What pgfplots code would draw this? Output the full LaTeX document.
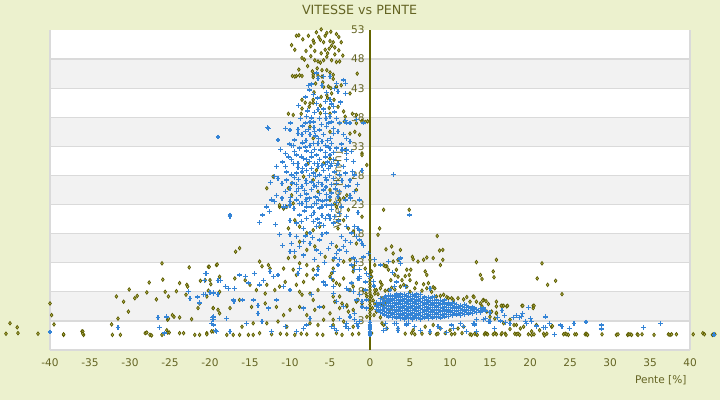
\documentclass[border=0pt]{standalone}
\usepackage{pgfplots}
\pgfplotsset{compat=1.18}
\usepackage{fontspec}
\setmainfont{DejaVu Sans}
\definecolor{bgc}{RGB}{236,241,206}
\definecolor{bandc}{RGB}{242,242,242}
\definecolor{gridc}{RGB}{218,218,218}
\definecolor{txtc}{RGB}{100,100,35}
\definecolor{axc}{RGB}{100,100,0}
\definecolor{olmk}{RGB}{90,90,0}
\definecolor{olfill}{RGB}{185,185,85}
\definecolor{blmk}{RGB}{52,132,214}
\begin{document}
\begin{tikzpicture}
\begin{scope}[x=1bp,y=1bp]
\fill[bgc] (-50,-50) rectangle (670,350);
\fill[white] (0,0) rectangle (640,320);
\foreach \a/\b in {29.09/58.18,87.27/116.36,145.45/174.55,203.64/232.73,261.82/290.91}
  \fill[bandc] (0,\a) rectangle (640,\b);
\foreach \k in {0,...,10}
  \draw[gridc,line width=1.2bp] (0,{\k*29.0909}) -- (640,{\k*29.0909});
\draw[gridc,line width=1.2bp] (0,0) -- (0,320);
\draw[gridc,line width=1.2bp] (640,0) -- (640,320);
\end{scope}
\begin{axis}[
  at={(0,0)}, anchor=south west,
  scale only axis, width=640bp, height=320bp,
  xmin=-40, xmax=40, ymin=-2, ymax=53,
  clip=false,
  axis x line=bottom, axis y line=center,
  x axis line style={draw=none},
  y axis line style={draw=axc, line width=1.4bp, -},
  xtick={-40,-35,...,40}, ytick={-2,3,...,53},
  yticklabels={3,3,8,13,18,23,28,33,38,43,48,53},
  major tick length=0pt, tick style={draw=none},
  ticklabel style={font=\fontsize{10.6}{12}\selectfont, text=txtc},
  xticklabel style={yshift=-5bp},
  yticklabel style={xshift=-2bp},
  /pgf/number format/assume math mode=true,
]
\node[rotate=90, font=\fontsize{10.6}{12}\selectfont, text=txtc] at (axis cs:-4,25.5) {Vitesse [km/h]};
\node[font=\fontsize{12.7}{14}\selectfont, text=txtc] at (axis cs:-1.3,56.4) {VITESSE vs PENTE};
\node[anchor=east, font=\fontsize{10.6}{12}\selectfont, text=txtc] at (axis cs:40,-7.16) {Pente [\%]};

% olive series
\addplot[only marks, mark=diamond*, mark size=1.8bp, mark options={draw=olmk, fill=olfill, line width=0.7bp}] coordinates {
(-9.8,50.4) (-9.4,49.6) (-9.2,52.0) (-8.9,52.1) (-8.4,51.4) (-7.7,52.0) (-7.1,51.2) (-7.0,50.8) (-6.4,51.8) (-6.1,53.1) (-5.4,52.5) (-6.2,51.3) (-5.8,50.9) (-5.0,51.1) (-4.6,50.9) (-4.8,50.3) (-5.1,49.8) (-4.4,50.0) (-3.6,50.9) (-3.9,49.5) (-5.6,49.6) (-6.1,49.0) (-5.3,49.0) (-5.4,48.4) (-5.8,47.8) (-6.5,47.6) (-6.9,47.8) (-6.2,47.4) (-4.8,47.8) (-4.2,47.5) (-3.8,47.6) (-7.4,48.5) (-8.5,48.2) (-8.2,47.9) (-8.9,46.2) (-9.7,45.1) (-9.2,45.1) (-8.8,45.2) (-7.2,45.9) (-6.6,46.4) (-6.0,46.1) (-5.4,46.1) (-5.0,45.7) (-6.5,45.1) (-7.1,44.9) (-5.9,44.0) (-6.8,43.8) (-5.8,43.2) (-4.9,43.0) (-4.2,43.2) (-3.6,43.5) (-7.0,42.3) (-6.1,41.5) (-5.3,41.3) (-4.5,41.0) (-5.1,39.6) (-6.2,40.0) (-7.1,40.5) (-1.6,45.5) (-2.2,38.6) (-3.2,37.3) (-5.0,38.6) (-6.2,38.7) (-8.6,38.6) (-10.2,38.6) (-7.6,39.8) (-8.1,40.5) (-1.0,37.4) (-0.3,37.3) (-1.7,37.0)
(-6.7,52.6) (-4.2,52.3) (-3.9,51.8) (-7.4,50.2) (-8.0,49.4) (-4.4,48.8) (-3.4,48.6) (-6.9,49.4) (-5.6,52.0) (-4.9,52.7) (-7.8,46.8) (-4.6,44.6)
(-9.4,45.0) (-8.5,45.1) (-7.1,45.3) (-6.0,45.0) (-4.6,45.3) (-5.2,43.3) (-5.4,41.8) (-4.8,42.1) (-4.2,43.3) (-2.5,42.1) (-8.5,41.0) (-7.5,40.4) (-7.1,41.0) (-9.6,38.4) (-8.5,39.5) (-4.0,39.8) (-3.3,39.0) (-3.1,38.1) (-1.7,38.4) (-1.0,37.2) (-0.6,37.2) (-2.5,35.2) (-1.9,35.5) (-1.3,35.0) (-3.8,37.0) (-7.5,36.4) (-7.1,34.4) (-5.0,35.5) (-1.0,31.8) (-0.4,29.8) (-3.1,32.4) (-12.1,27.8) (-12.9,25.8) (-9.8,26.6) (-10.2,25.8) (-9.8,24.6) (-5.0,23.8) (-4.2,22.6) (-3.8,23.8) (-6.5,25.2) (-7.1,27.2) (-8.3,27.8) (-6.7,28.9) (-5.8,30.1) (-5.0,30.9) (-7.7,30.1) (-5.0,25.5) (-11.3,22.6) (-10.8,22.3)
(-1.0,31.5) (-1.7,25.5) (-2.9,24.6) (-3.3,24.1) (-4.4,23.2) (-1.0,20.9) (-2.7,18.9) (-4.2,15.8) (-4.6,12.0) (-4.8,11.2) (-2.5,13.5) (-2.1,12.3) (-0.6,12.0) (-4.2,9.5) (-3.8,9.2) (-2.3,9.5) (-2.1,8.9) (-0.8,8.3) (-0.5,7.7) (-4.6,7.2) (-3.5,6.0) (-2.9,5.5) (-1.7,6.3) (-1.0,5.5) (-4.6,3.2) (-2.7,4.6) (-4.2,0.9) (-3.5,0.6) (-0.4,3.7)
(-11.3,22.9) (-10.4,22.6) (-9.6,23.2) (-10.2,18.9) (-9.4,20.3) (-8.8,19.2) (-7.9,18.1) (-7.1,18.6) (-6.3,19.2) (-4.0,18.9) (-3.3,20.3) (-2.7,22.1) (-2.1,18.3) (-1.7,16.3) (-8.8,16.6) (-7.9,15.2) (-6.9,15.8) (-5.6,14.0) (-4.6,13.5) (-3.3,13.2)
(-16.8,14.9) (-16.3,15.5) (-13.8,13.2) (-13.5,12.4) (-12.7,12.6) (-12.5,12.0) (-10.8,12.0) (-10.2,13.8) (-9.4,14.0) (-8.8,12.9) (-7.9,12.6) (-7.1,11.8) (-6.5,12.3) (-9.6,11.8) (-9.2,10.9) (-7.9,10.9) (-7.1,10.3) (-8.3,9.7) (-9.2,9.2) (-10.6,9.7) (-11.3,8.9) (-11.9,8.3) (-12.9,9.2) (-13.1,7.7) (-14.2,8.3) (-15.0,9.2) (-15.6,10.0) (-16.9,10.3) (-18.8,10.6) (-20.0,10.0) (-19.2,12.6) (-20.2,12.3) (-19.6,5.2) (-18.8,4.3) (-17.5,5.2) (-16.3,6.6) (-14.8,5.4) (-13.1,6.0) (-11.7,5.4) (-10.8,4.0) (-10.0,4.9) (-8.8,5.4) (-7.9,4.0) (-6.9,4.9) (-5.8,5.4) (-5.0,4.3) (-4.4,6.3) (-3.8,5.2) (-2.9,5.7) (-2.1,4.9) (-1.5,6.6) (-1.0,6.0) (-0.4,7.2) (-16.0,2.0) (-14.6,2.6) (-12.9,2.6) (-11.5,2.9) (-10.4,2.0) (-7.5,2.6) (-6.5,2.3) (-5.8,3.2) (-4.6,2.3) (-3.3,2.9) (-2.1,2.0) (-20.4,0.9) (-19.6,1.2) (-17.9,0.6) (-17.1,0.6) (-16.3,0.6) (-15.2,0.6) (-14.6,0.6) (-13.8,0.9) (-7.1,6.6) (-3.8,7.2) (-5.0,10.6) (-4.6,10.0) (-3.3,10.3) (-2.1,11.5) (-2.5,8.3) (-7.5,7.7) (-8.8,8.0) (-8.5,7.5) (-6.5,8.3)
(-12.3,0.7) (-11.2,0.8) (-10.4,0.7) (-9.4,0.6) (-8.6,0.8) (-7.9,0.7) (-6.6,0.7) (-5.9,0.6) (-2.2,0.7) (-1.4,0.8)
(-39.8,4.0) (-39.5,2.4) (-38.3,0.6) (-36.0,1.2) (-35.8,0.6) (-32.3,2.4) (-32.2,0.6) (-31.7,7.2) (-31.5,3.4) (-31.2,0.6) (-30.8,6.3) (-30.2,4.6) (-30.1,8.4) (-29.4,6.9) (-29.1,7.3) (-28.1,0.9) (-27.9,1.0) (-27.5,0.6) (-27.3,0.5) (-27.9,7.9) (-27.6,9.6) (-26.7,6.7) (-26.0,0.6) (-26.0,12.9) (-25.9,10.1) (-25.6,8.0) (-25.3,3.2) (-25.2,3.4) (-25.4,1.4) (-25.3,1.0) (-25.1,1.0) (-25.2,7.2) (-24.7,4.0) (-24.5,3.7) (-24.2,8.1) (-23.8,9.5) (-23.8,3.6) (-23.8,0.9) (-23.3,0.9) (-22.9,9.2) (-22.8,8.9) (-22.6,12.2) (-23.0,7.5) (-22.3,3.3) (-21.9,0.6) (-21.3,0.6) (-20.4,0.7) (-21.5,5.2) (-21.2,9.9) (-21.3,6.0) (-20.6,10.0) (-20.4,7.2) (-20.1,12.3) (-19.6,5.2) (-19.9,9.3) (-20.2,8.2) (-19.8,1.2) (-19.1,12.7) (-18.8,8.0) (-19.0,4.9)
(-45.5,0.8) (-45.0,2.6) (-44.1,1.9) (-44.0,0.9) (-41.5,0.8) (-40.0,6.0) (-38.3,0.7) (-35.9,1.2) (-35.9,0.8)
(0,3.8) (0,4.3) (0,4.8) (0,5.3) (0,5.8) (0,6.3) (0,6.8) (0,7.3) (0,7.8) (0,8.3) (0,8.8) (0,9.3) (0,9.8) (0,10.3) (0,11.0) (0,13.5)
(1.7,22.1) (1.2,18.9) (1.0,17.8) (0.6,12.6) (2.7,15.8) (2.9,14.6) (2.9,13.2) (2.3,11.8) (0.2,11.5) (0.2,10.6) (1.7,12.6) (2.1,12.4) (3.1,10.9) (3.5,10.6) (1.3,9.7) (1.5,9.2) (0.8,8.3) (0.6,7.7) (4.6,8.9) (1.7,5.5) (2.5,4.9) (1.5,2.6) (0.2,0.9)
(4.9,22.1) (8.4,17.6) (2.0,15.3) (3.8,15.2) (5.3,14.0) (5.4,13.6) (6.0,13.2) (6.7,13.5) (7.1,13.9) (7.9,13.8) (8.7,15.1) (9.1,15.2) (9.1,13.5) (8.8,12.6) (13.3,13.1) (15.8,13.5) (1.9,12.4) (2.6,10.0) (3.3,11.8) (3.5,13.5) (4.6,11.8) (5.1,11.8) (4.9,10.9) (6.9,11.5) (7.1,10.9) (4.4,10.7) (4.0,10.0) (5.0,10.0) (5.8,9.5) (6.7,9.3) (7.3,9.5) (7.9,8.8) (8.1,8.6) (8.8,7.3) (9.6,7.1) (10.2,6.9) (12.1,7.1) (12.9,7.2) (14.2,6.6) (13.8,10.9) (14.0,10.2) (15.4,11.5) (15.5,10.5) (21.5,12.9) (20.9,10.3) (22.2,9.2) (23.2,9.9) (24.0,7.6)
(0.6,8.3) (1.3,8.6) (1.9,8.2) (2.3,8.3) (2.7,8.7) (3.1,8.4) (3.8,8.9) (4.2,9.2) (5.0,8.0) (5.6,8.6) (6.5,8.2) (7.1,8.6) (7.7,8.0) (8.3,7.2) (9.2,7.5) (9.8,6.9) (10.4,6.6) (11.0,6.9) (11.7,6.7) (12.5,6.3) (13.3,6.3) (14.0,5.5) (14.8,5.9) (15.8,5.5) (16.5,5.6) (17.1,5.5) (19.0,5.6) (20.4,5.6) (20.4,5.2) (14.6,4.6) (15.0,3.7) (15.8,4.3) (15.6,3.4) (16.7,2.6) (17.5,3.2) (18.3,2.3) (19.2,2.0) (20.8,2.3) (22.7,2.0) (1.7,2.3) (2.1,1.7) (3.5,1.7) (5.4,1.4) (6.9,2.0) (7.9,2.3) (8.8,1.7) (10.0,1.4) (11.0,1.7) (11.7,2.0) (0.2,7.2) (0.4,6.5) (0.6,5.9) (0.3,5.2) (0.8,4.6) (1.3,5.8) (1.5,6.9) (1.0,7.6) (0.5,4.0) (1.3,3.6) (1.9,6.3)
(13.0,7.1) (14.1,6.5) (14.5,6.4) (13.8,6.0) (15.8,6.3) (16.4,5.6) (16.7,5.6) (17.2,5.6) (19.1,5.6) (20.5,5.6) (15.2,4.6) (15.8,4.4) (17.5,1.6) (18.0,2.3) (18.8,1.7) (20.2,1.2) (21.2,1.4) (22.8,2.1)
(4.4,0.8) (5.2,0.9) (5.6,0.7) (6.5,0.8) (7.5,0.9) (8.3,0.7) (8.5,0.8) (9.4,0.9) (10.2,0.7) (10.6,0.8) (11.5,0.9) (12.5,0.7) (12.7,0.6) (13.1,0.8) (13.3,0.7) (13.4,0.6) (14.3,0.7) (14.4,0.9) (14.6,0.8) (14.7,0.7) (15.4,0.7) (15.6,0.9) (15.8,0.7) (16.4,0.7) (16.5,0.9) (16.9,0.8) (17.0,0.6) (18.1,0.8) (18.3,0.7) (18.5,0.8) (18.7,0.6) (19.8,0.7) (20.2,0.6) (20.5,0.7) (21.7,0.8) (21.8,0.5) (22.1,0.8) (24.2,0.7) (24.4,0.8) (24.6,0.7) (24.8,0.6) (25.6,0.7) (25.8,0.7) (26.9,0.7) (27.0,0.8) (27.1,0.7) (27.2,0.6) (29.0,0.7) (30.8,0.6) (31.0,0.7) (32.2,0.6) (32.3,0.7) (32.5,0.7) (32.7,0.6) (33.4,0.7) (33.5,0.6) (34.0,0.7) (35.5,0.6) (37.3,0.7) (37.5,0.6) (37.7,0.7) (38.3,0.7) (40.4,0.7) (41.6,0.9) (41.8,0.7) (42.8,0.6) (43.1,0.7)
};

% blue series
\addplot[only marks, mark=+, mark size=2.4bp, mark options={draw=blmk, line width=1.35bp}] coordinates {
(-7.7,43.5) (-7.3,43.7) (-6.7,45.6) (-6.5,44.7) (-5.8,45.0) (-5.0,45.0) (-4.2,43.8) (-4.4,43.0) (-3.3,44.4) (-3.1,43.8) (-3.1,42.1) (-4.0,42.4) (-8.1,41.5) (-6.7,40.4) (-5.6,40.7) (-5.0,41.0) (-4.6,39.8) (-6.5,39.3) (-5.6,38.7) (-5.0,38.1) (-6.3,37.8) (-7.1,37.2) (-7.5,37.2) (-8.1,37.0) (-7.9,38.1) (-5.2,37.0) (-4.8,37.2) (-4.2,37.8) (-3.8,37.0) (-3.1,37.5) (-2.9,37.0) (-2.5,37.0) (-1.7,37.6) (-0.8,37.0) (-12.7,36.1) (-10.6,36.1) (-10.0,35.8) (-9.0,35.2) (-8.5,35.0) (-8.1,35.5) (-7.5,35.0) (-6.9,35.5) (-6.3,35.8) (-5.4,36.4) (-4.6,35.2) (-4.0,35.5) (-3.3,35.0) (-2.9,34.4) (-2.5,33.8) (-9.4,34.1) (-9.8,33.2) (-10.6,31.8) (-10.2,31.2) (-9.4,32.1) (-8.8,32.7) (-8.1,32.9) (-7.5,33.2) (-7.1,33.5) (-6.5,33.5) (-6.0,33.8) (-5.6,33.2) (-5.2,32.9) (-4.8,33.5) (-4.2,32.7) (-3.5,32.4) (-2.9,31.8) (-9.6,30.1) (-10.6,29.5) (-9.8,30.7) (-9.0,30.1) (-8.3,30.9) (-7.9,30.7) (-7.3,31.2) (-6.7,31.5) (-6.3,30.7) (-5.6,31.2) (-5.0,31.5) (-4.6,30.7) (-4.0,30.1) (-3.3,29.5) (-2.9,30.7) (-11.9,27.8) (-11.5,27.5) (-11.0,26.6) (-10.4,27.2) (-9.8,28.1) (-9.2,28.4) (-8.5,28.6) (-7.9,28.9) (-7.3,29.2) (-6.5,29.5) (-5.8,28.9) (-5.2,29.2) (-4.4,28.6) (-3.8,28.1) (-3.1,28.4) (-2.5,27.2) (-1.9,28.1) (-1.0,28.9) (-12.3,23.8) (-11.7,24.6) (-11.0,24.1) (-11.9,23.5) (-10.6,25.2) (-10.0,25.8) (-9.2,26.4) (-8.5,26.1) (-7.9,26.6) (-7.3,26.9) (-6.7,26.1) (-6.0,26.4) (-5.4,27.2) (-4.8,26.4) (-4.2,26.6) (-3.8,25.2) (-3.1,26.1) (-2.5,24.6) (-1.9,25.2) (-1.3,23.8) (-9.2,23.8) (-8.5,23.2) (-7.9,23.5) (-7.3,22.6) (-6.7,23.2) (-6.0,22.6) (-5.4,23.8) (-4.8,22.9) (-4.0,24.4) (-3.1,23.8) (-10.6,22.6) (-10.0,23.5)
(-8.7,37.8) (-6.9,38.8) (-5.8,39.4) (-4.4,38.9) (-7.8,39.1) (-6.1,36.8) (-7.7,35.9) (-5.8,35.0) (-4.9,34.4) (-9.0,35.9) (-6.4,34.3) (-8.0,34.0) (-9.6,33.1) (-7.9,32.2) (-6.9,32.5) (-5.6,32.0) (-4.6,31.9) (-3.6,33.4) (-8.6,31.2) (-6.9,30.1) (-6.0,29.7) (-5.3,30.3) (-4.2,29.7) (-9.0,29.4) (-8.0,29.8) (-7.1,28.4) (-6.3,28.1) (-5.1,28.0) (-4.6,27.5) (-8.9,27.3) (-9.7,26.7) (-8.2,25.4) (-7.3,25.6) (-6.4,26.8) (-5.5,26.0) (-4.3,25.7) (-3.5,27.1) (-8.7,24.5) (-7.6,24.1) (-6.8,24.3) (-5.9,23.6) (-5.0,24.3) (-4.2,23.3) (-9.5,22.3) (-8.2,21.9) (-7.0,21.6) (-6.0,21.1) (-5.0,20.6) (-3.6,22.6) (-9.2,25.2) (-10.4,28.6) (-10.9,30.3) (-10.1,33.4) (-7.3,37.9) (-6.6,41.3) (-5.4,42.3) (-7.6,42.7) (-4.6,36.1) (-2.1,30.4) (-1.6,26.5) (-2.4,24.1)
(-8.4,36.5) (-7.0,36.2) (-5.5,37.8) (-6.8,34.8) (-5.3,34.0) (-8.4,33.6) (-7.3,32.0) (-6.2,32.4) (-5.0,32.6) (-9.2,31.5) (-7.6,30.4) (-6.6,30.0) (-5.6,29.9) (-8.4,29.2) (-7.6,28.0) (-6.8,27.8) (-5.6,27.7) (-4.9,29.6) (-9.4,27.6) (-8.0,27.1) (-7.0,26.3) (-5.8,25.5) (-4.8,25.0) (-8.9,25.8) (-7.9,24.8) (-6.3,24.9) (-5.4,24.7) (-9.9,24.2) (-8.0,23.9) (-6.4,23.8) (-7.3,21.1) (-6.6,20.5) (-8.6,20.1) (-5.8,19.4) (-4.4,21.0) (-3.9,20.2) (-7.2,17.3) (-6.0,17.9) (-8.1,17.6) (-3.6,17.5) (-5.2,15.5) (-6.2,14.6) (-3.1,16.8) (-6.9,13.5) (-8.3,14.3) (-5.7,13.0) (-7.1,41.9) (-4.8,40.3) (-3.7,40.6) (-6.0,43.5) (-8.9,40.0) (-9.9,37.0) (-11.5,34.1) (-11.2,32.5) (-11.7,29.5) (-12.4,26.8) (-12.9,22.6) (-11.8,19.6) (-10.9,16.0) (-2.2,28.7) (-2.7,26.2) (-1.5,21.6) (-2.4,16.5)
(-10.8,22.6) (-10.0,22.9) (-8.8,23.2) (-7.9,22.6) (-6.9,23.2) (-6.3,22.4) (-5.4,22.9) (-4.8,22.1) (-8.8,21.2) (-7.9,20.6) (-7.1,20.1) (-6.3,19.8) (-5.6,20.6) (-5.2,21.2) (-4.6,19.8) (-6.7,19.2) (-8.3,18.9) (-9.2,19.8) (-10.0,20.3) (-3.8,21.5) (-2.9,19.2) (-2.3,18.1)
(-17.5,21.0) (-13.8,19.9) (-13.4,21.2) (-12.6,21.8) (-11.3,17.8) (-10.0,17.8) (-9.8,16.3) (-9.2,17.5) (-8.8,15.8) (-9.4,14.9) (-10.0,14.9) (-7.5,18.1) (-7.5,16.3) (-8.3,16.6) (-6.7,15.2) (-6.3,16.9) (-5.4,18.1) (-4.8,16.3) (-4.2,14.6) (-3.8,15.2) (-3.3,15.8) (-2.9,14.9) (-1.7,17.5) (-1.3,16.9) (-1.0,16.3) (-2.1,13.8) (-1.7,13.2) (-0.8,14.0) (-0.2,14.6) (-4.0,12.6) (-4.6,11.5) (-4.8,10.3) (-1.3,11.8) (-1.3,10.3) (-0.4,11.2) (-0.1,10.6)
(-20.6,11.2) (-19.0,10.0) (-18.7,10.0) (-20.6,7.5) (-19.6,7.7) (-18.1,8.9) (-17.7,8.6) (-16.9,8.6) (-17.1,6.6) (-17.0,6.3) (-16.3,10.9) (-15.6,10.6) (-15.2,9.5) (-14.4,11.2) (-13.8,9.2) (-13.3,10.0) (-12.5,11.5) (-12.1,10.6) (-11.5,10.9) (-10.8,8.9) (-10.0,8.3) (-11.7,6.6) (-12.7,5.2) (-14.0,5.7) (-15.9,6.6) (-14.6,6.6) (-14.0,4.3) (-13.5,2.9) (-15.4,2.6) (-17.9,3.4) (-19.6,3.7) (-19.6,3.2) (-19.6,2.3) (-19.2,1.2) (-17.5,1.2) (-12.3,1.2) (-10.6,2.0) (-9.2,1.2) (-8.3,1.7) (-7.9,2.3) (-7.3,7.5) (-7.5,3.4) (-8.3,5.2) (-6.3,5.4) (-4.8,2.0) (-4.4,1.7) (-3.8,3.4) (-2.9,2.6) (-2.9,2.0) (-1.9,4.3) (-1.7,2.6) (-1.5,2.0) (-1.0,5.4) (-1.7,6.6) (-1.3,7.5) (-0.4,6.6) (-0.6,8.3) (-2.3,9.5) (-2.9,8.6) (-4.6,8.9) (-5.6,9.2) (-5.8,9.7) (-6.5,11.8) (-6.7,10.9) (-8.8,12.0) (-9.0,11.2)
(-4.8,30.1) (-2.9,32.4) (-2.3,32.1) (-2.9,20.9) (-1.9,19.2) (-1.5,18.9) (-1.3,18.6) (-0.8,16.0) (-3.3,15.8) (-4.4,13.8) (-3.8,13.5) (-2.3,12.6) (-1.9,11.8) (-1.3,10.6) (-1.5,10.3) (-0.6,9.7) (-2.7,8.3) (-2.1,8.0) (-4.6,7.7) (-4.2,6.3) (-3.3,5.5) (-1.0,6.3) (-0.4,5.2) (-2.5,3.7) (-1.9,3.2) (-1.3,2.9) (-3.1,2.0) (-2.7,1.7) (-4.2,1.4) (-4.8,2.0) (2.5,8.3) (1.9,7.2) (2.3,6.6) (0.8,5.5) (0.6,13.5) (1.3,12.6) (2.3,13.2) (3.1,8.9) (3.3,9.7) (3.8,13.8) (3.8,12.9) (1.7,1.4) (2.1,1.7) (3.3,2.6) (3.5,1.4) (4.6,2.6)
(-31.5,1.9) (-26.5,3.6) (-26.3,1.9) (-25.7,0.9) (-25.4,3.7) (-22.7,8.1) (-22.5,6.9) (-21.6,7.1) (-21.3,6.1) (-20.8,7.5) (-20.6,7.5) (-20.7,10.0) (-20.4,11.1) (-19.0,10.0) (-20.0,7.9) (-19.6,7.9) (-19.0,7.5) (-19.7,3.6) (-19.7,3.2) (-19.8,2.6) (-19.3,1.3)
(-40.0,1.1) (43.0,0.6) (-12.8,36.2) (-19.0,34.6) (2.9,28.2) (-17.5,21.2) (4.9,21.2)
(0,0.6) (0,0.9) (0,1.2) (0,1.5) (0,1.8) (0,2.1) (0,2.4) (0,2.7)
(1.9,2.6) (3.1,2.6) (3.5,1.7) (4.6,2.3) (4.8,2.6) (5.6,2.0) (6.3,1.4) (7.5,1.2) (8.5,2.0) (8.8,1.7) (9.6,1.0) (10.2,2.3) (10.4,1.7) (11.3,2.6) (11.7,2.0) (12.1,1.2) (12.9,2.6) (13.1,2.3) (13.3,1.2) (14.2,3.2) (14.8,2.9)
(3.7,13.5) (0.4,9.8) (0.5,9.0) (2.8,11.3) (4.4,8.9) (7.5,8.6) (8.1,7.2)
(14.2,5.2) (13.8,4.4) (13.3,3.2) (13.1,2.6) (14.4,3.4) (15.0,2.9) (15.6,1.7) (15.9,3.6) (16.3,3.0) (16.5,4.8) (16.8,3.9) (16.9,2.7) (17.5,2.6) (17.9,3.6) (18.3,3.9) (18.7,3.6) (18.9,3.8) (19.1,4.3) (19.4,2.9) (19.6,2.6) (19.8,5.3) (20.1,3.4) (20.2,2.9) (20.8,2.1) (21.7,1.9) (21.9,1.9) (21.9,3.7) (22.4,2.5) (23.1,0.7) (23.8,2.3) (24.0,2.0) (24.9,1.7) (25.5,2.6) (27.0,2.8) (28.9,2.3) (28.9,1.6) (34.2,1.9) (36.3,2.5)
(0.8,5.0) (0.8,5.6) (0.8,6.2)
(1.3,4.4) (1.3,5.0) (1.3,5.6) (1.3,6.2) (1.3,6.8)
(1.8,4.0) (1.8,4.6) (1.8,5.2) (1.8,5.8) (1.8,6.4) (1.8,7.0)
(2.3,3.7) (2.3,4.3) (2.3,4.9) (2.3,5.5) (2.3,6.1) (2.3,6.7) (2.3,7.3)
(2.8,3.6) (2.8,4.2) (2.8,4.8) (2.8,5.4) (2.8,6.0) (2.8,6.6) (2.8,7.2)
(3.3,3.5) (3.3,4.1) (3.3,4.7) (3.3,5.3) (3.3,5.9) (3.3,6.5) (3.3,7.1) (3.3,7.6)
(3.8,3.4) (3.8,4.0) (3.8,4.6) (3.8,5.2) (3.8,5.8) (3.8,6.4) (3.8,7.0) (3.8,7.6)
(4.3,3.3) (4.3,3.9) (4.3,4.5) (4.3,5.1) (4.3,5.7) (4.3,6.3) (4.3,6.9) (4.3,7.5)
(4.8,3.4) (4.8,4.0) (4.8,4.6) (4.8,5.2) (4.8,5.8) (4.8,6.4) (4.8,7.0) (4.8,7.7)
(5.3,3.3) (5.3,3.9) (5.3,4.5) (5.3,5.1) (5.3,5.7) (5.3,6.3) (5.3,6.9) (5.3,7.5)
(5.8,3.4) (5.8,4.0) (5.8,4.6) (5.8,5.2) (5.8,5.8) (5.8,6.4) (5.8,7.0) (5.8,7.6)
(6.3,3.3) (6.3,3.9) (6.3,4.5) (6.3,5.1) (6.3,5.7) (6.3,6.3) (6.3,6.9) (6.3,7.5)
(6.8,3.5) (6.8,4.1) (6.8,4.7) (6.8,5.3) (6.8,5.9) (6.8,6.5) (6.8,7.1)
(7.3,3.4) (7.3,4.0) (7.3,4.6) (7.3,5.2) (7.3,5.8) (7.3,6.4) (7.3,7.0)
(7.8,3.5) (7.8,4.1) (7.8,4.7) (7.8,5.3) (7.8,5.9) (7.8,6.5) (7.8,7.1)
(8.3,3.6) (8.3,4.2) (8.3,4.8) (8.3,5.4) (8.3,6.0) (8.3,6.6)
(8.8,3.5) (8.8,4.1) (8.8,4.7) (8.8,5.3) (8.8,5.9) (8.8,6.5)
(9.3,3.7) (9.3,4.3) (9.3,4.9) (9.3,5.5) (9.3,6.1) (9.3,6.6)
(9.8,3.8) (9.8,4.4) (9.8,5.0) (9.8,5.6) (9.8,6.2)
(10.3,3.9) (10.3,4.5) (10.3,5.1) (10.3,5.7) (10.3,6.2)
(10.8,4.0) (10.8,4.6) (10.8,5.2) (10.8,5.8)
(11.3,3.9) (11.3,4.5) (11.3,5.1) (11.3,5.7)
(11.8,4.1) (11.8,4.7) (11.8,5.3) (11.8,5.8)
(12.3,4.2) (12.3,4.8) (12.3,5.4)
(12.8,4.3) (12.8,4.9) (12.8,5.4)
(13.3,4.4) (13.3,5.0) (13.8,4.6) (13.8,5.1) (14.4,4.7) (15.0,4.5)
(1.05,4.7) (1.05,5.3) (1.05,5.9) (1.55,4.3) (1.55,4.9) (1.55,5.5) (1.55,6.1) (1.55,6.7)
(2.05,3.9) (2.05,4.5) (2.05,5.1) (2.05,5.7) (2.05,6.3) (2.05,6.9) (2.55,3.9) (2.55,4.5) (2.55,5.1) (2.55,5.7) (2.55,6.3) (2.55,6.9) (2.55,7.4)
(3.05,3.8) (3.05,4.4) (3.05,5.0) (3.05,5.6) (3.05,6.2) (3.05,6.8) (3.05,7.4) (3.55,3.7) (3.55,4.3) (3.55,4.9) (3.55,5.5) (3.55,6.1) (3.55,6.7) (3.55,7.3)
(4.05,3.6) (4.05,4.2) (4.05,4.8) (4.05,5.4) (4.05,6.0) (4.05,6.6) (4.05,7.2) (4.55,3.7) (4.55,4.3) (4.55,4.9) (4.55,5.5) (4.55,6.1) (4.55,6.7) (4.55,7.3)
(5.05,3.6) (5.05,4.2) (5.05,4.8) (5.05,5.4) (5.05,6.0) (5.05,6.6) (5.05,7.2) (5.55,3.7) (5.55,4.3) (5.55,4.9) (5.55,5.5) (5.55,6.1) (5.55,6.7) (5.55,7.3)
(6.05,3.6) (6.05,4.2) (6.05,4.8) (6.05,5.4) (6.05,6.0) (6.05,6.6) (6.05,7.2) (6.55,3.8) (6.55,4.4) (6.55,5.0) (6.55,5.6) (6.55,6.2) (6.55,6.8)
(7.05,3.7) (7.05,4.3) (7.05,4.9) (7.05,5.5) (7.05,6.1) (7.05,6.7) (7.55,3.8) (7.55,4.4) (7.55,5.0) (7.55,5.6) (7.55,6.2) (7.55,6.8)
(8.05,3.8) (8.05,4.4) (8.05,5.0) (8.05,5.6) (8.05,6.2) (8.55,3.8) (8.55,4.4) (8.55,5.0) (8.55,5.6) (8.55,6.2)
(9.05,4.0) (9.05,4.6) (9.05,5.2) (9.05,5.8) (9.05,6.3) (9.55,4.1) (9.55,4.7) (9.55,5.3) (9.55,5.9)
(10.05,4.1) (10.05,4.7) (10.05,5.3) (10.05,5.9) (10.55,4.2) (10.55,4.8) (10.55,5.4) (10.55,6.0)
(11.05,4.2) (11.05,4.8) (11.05,5.4) (11.55,4.3) (11.55,4.9) (11.55,5.5) (12.05,4.4) (12.05,5.0) (12.05,5.6)
(12.55,4.5) (12.55,5.1) (13.05,4.6) (13.05,5.2) (13.55,4.8) (14.1,4.9)
};
\end{axis}
\pgfresetboundingbox
\path[x=1bp,y=1bp] (-50,-50) rectangle (670,350);
\end{tikzpicture}
\end{document}
